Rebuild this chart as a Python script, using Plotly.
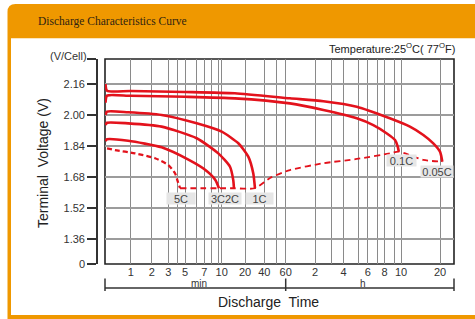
import numpy as np
import plotly.graph_objects as go

# ---------------- axis definitions ----------------
# Horizontal time scale of the chart (hand-drawn, non-uniform): time in minutes -> scale units
SCALE_TIME = [0, 1, 2, 3, 4, 5, 6, 7, 8, 9, 10, 20, 40, 50, 60, 120, 180, 240, 300, 360, 420, 480, 540, 600, 1200]
SCALE_UNIT = [0, 25.7, 46.7, 63.3, 72.3, 80, 91.7, 99.3, 106.7, 113.3, 116.7, 140, 159.3, 171, 180.7,
              210, 226.7, 238.5, 253.3, 262.8, 272.2, 279.5, 289.2, 296, 335]
X_MAX_UNIT = 349
X_LABELS = {1: "1", 2: "2", 3: "3", 5: "5", 7: "7", 10: "10", 20: "20", 40: "40", 60: "60",
            120: "2", 240: "4", 360: "6", 480: "8", 600: "10", 1200: "20"}

Y_TICK_VALS = [1.231, 1.36, 1.52, 1.68, 1.84, 2.00, 2.16, 2.289]
Y_TICK_TEXT = ["0", "1.36", "1.52", "1.68", "1.84", "2.00", "2.16", ""]
Y_RANGE = [1.231, 2.289]

# ---------------- data (time in minutes, voltage per cell) ----------------
C005_T = [0.02, 0.08, 1, 5, 14.8, 66.3, 147, 293, 512, 703, 892, 1065, 1200, 1250]
C005_V = [2.160, 2.125, 2.124, 2.119, 2.112, 2.086, 2.071, 2.043, 1.983, 1.940, 1.897, 1.854, 1.811, 1.759]

C01_T = [0.02, 0.08, 1, 5, 14.8, 66.3, 147, 293, 394, 492, 547, 571, 580]
C01_V = [2.063, 2.100, 2.099, 2.094, 2.086, 2.060, 2.026, 1.983, 1.948, 1.906, 1.871, 1.836, 1.811]

C1_T = [0.02, 0.08, 0.9, 2.55, 6, 10, 16.4, 22.5, 26.9, 28.6]
C1_V = [2.000, 2.017, 2.014, 2.000, 1.957, 1.914, 1.854, 1.785, 1.699, 1.622]

C2_T = [0.02, 0.08, 0.9, 2.55, 6, 9, 12.8, 14.1, 14.4]
C2_V = [1.948, 1.960, 1.957, 1.940, 1.880, 1.802, 1.733, 1.664, 1.622]

C3_T = [0.02, 0.08, 0.9, 2.55, 5.31, 7.14, 8.54, 9.19]
C3_V = [1.866, 1.875, 1.867, 1.833, 1.768, 1.716, 1.665, 1.622]

C5_T = [0.08, 0.39, 1.15, 2.17, 3.0, 3.72, 4.06, 4.33]
C5_V = [1.828, 1.819, 1.802, 1.777, 1.742, 1.699, 1.656, 1.622]

END_T = [4.33, 9.19, 14.4, 28.6, 44.6, 66.3, 147, 293, 512, 580, 892, 1250]
END_V = [1.622, 1.622, 1.622, 1.622, 1.675, 1.716, 1.751, 1.773, 1.802, 1.811, 1.768, 1.759]


def to_scale(t):
    t = np.asarray(t, float)
    st = np.array(SCALE_TIME[1:], float)
    su = np.array(SCALE_UNIT[1:], float)
    lt = np.log(np.maximum(t, 1e-9))
    out = np.interp(lt, np.log(st), su)
    slope = (su[-1] - su[-2]) / (np.log(st[-1]) - np.log(st[-2]))
    out = np.where(t > st[-1], su[-1] + slope * (lt - np.log(st[-1])), out)
    out = np.where(t < 1, t * SCALE_UNIT[1], out)
    return out


# ---------------- figure ----------------
W, H = 475, 319
ML, MR, MT, MB = 97, 21, 59, 55
PW, PH = W - ML - MR, H - MT - MB
X_DOM0 = (PW - X_MAX_UNIT) / PW


def px(x):
    return (x - ML) / PW


def py(y):
    return (H - MB - y) / PH


RED = "#E3121C"
FONT = "Liberation Sans, Arial, sans-serif"

fig = go.Figure()

solid = [(C005_T, C005_V), (C01_T, C01_V), (C1_T, C1_V), (C2_T, C2_V), (C3_T, C3_V)]
for t, v in solid:
    fig.add_trace(go.Scatter(x=to_scale(t), y=v, mode="lines",
                             line=dict(color=RED, width=2.6, shape="spline", smoothing=0.6),
                             hoverinfo="skip", showlegend=False))
fig.add_trace(go.Scatter(x=to_scale(C5_T), y=C5_V, mode="lines",
                         line=dict(color=RED, width=2.3, dash="5px,3px", shape="spline", smoothing=0.6),
                         hoverinfo="skip", showlegend=False))
fig.add_trace(go.Scatter(x=to_scale(END_T), y=END_V, mode="lines",
                         line=dict(color=RED, width=1.8, dash="6px,4px", shape="spline", smoothing=0.6),
                         hoverinfo="skip", showlegend=False))

outer = (f"M {px(7.5)},{py(12)} Q {px(7.5)},{py(4)} {px(15.5)},{py(4)} "
         f"L {px(490)},{py(4)} L {px(490)},{py(330)} L {px(7.5)},{py(330)} Z")
shapes = [
    dict(type="path", xref="paper", yref="paper", path=outer, fillcolor="#EF9800",
         line=dict(width=0), layer="below"),
    dict(type="rect", xref="paper", yref="paper", x0=px(11), x1=px(490), y0=py(38.3), y1=py(315),
         fillcolor="white", line=dict(width=0), layer="below"),
    dict(type="rect", xref="paper", yref="paper", x0=X_DOM0, x1=1, y0=0, y1=1,
         fillcolor="rgba(0,0,0,0)", line=dict(color="#222", width=1.6), layer="below"),
]


def sx(t):
    return X_DOM0 + float(to_scale([t])[0]) / PW


br_y = py(288)
shapes.append(dict(type="line", xref="paper", yref="paper", x0=X_DOM0, x1=1, y0=br_y, y1=br_y,
                   line=dict(color="#333", width=1.5)))
for xb in [X_DOM0, sx(60), 1.0]:
    shapes.append(dict(type="line", xref="paper", yref="paper", x0=xb, x1=xb, y0=py(278.5), y1=py(291),
                       line=dict(color="#333", width=1.5)))

grid_t = SCALE_TIME[1:]
annotations = [
    dict(text="Discharge Characteristics Curve", xref="paper", yref="paper", x=px(36), y=py(21),
         xanchor="left", yanchor="middle", showarrow=False,
         font=dict(family="Liberation Serif, Times New Roman, serif", size=11.5, color="#2f2412")),
    dict(text="Temperature:25<sup>O</sup>C( 77<sup>O</sup>F)", xref="paper", yref="paper",
         x=px(457), y=py(48), xanchor="right", yanchor="middle", showarrow=False,
         font=dict(family=FONT, size=11, color="#222")),
    dict(text="(V/Cell)", xref="paper", yref="paper", x=px(68), y=py(56), xanchor="center",
         yanchor="middle", showarrow=False, font=dict(family=FONT, size=11, color="#333")),
    dict(text="Terminal  Voltage (V)", xref="paper", yref="paper", x=px(43), y=py(163), textangle=-90,
         xanchor="center", yanchor="middle", showarrow=False, font=dict(family=FONT, size=14, color="#222")),
    dict(text="Discharge  Time", xref="paper", yref="paper", x=px(268), y=py(302), xanchor="center",
         yanchor="middle", showarrow=False, font=dict(family=FONT, size=14, color="#222")),
    dict(text="min", xref="paper", yref="paper", x=px(199), y=py(283), xanchor="center",
         yanchor="middle", showarrow=False, font=dict(family=FONT, size=10, color="#333")),
    dict(text="h", xref="paper", yref="paper", x=px(363), y=py(283), xanchor="center",
         yanchor="middle", showarrow=False, font=dict(family=FONT, size=10, color="#333")),
]

lab_font = dict(family=FONT, size=11, color="#444")


def curve_label(text, x, y, w, xs=0, ys=-10):
    return dict(text=text, x=x, y=y, xref="x", yref="y", showarrow=False, xshift=xs, yshift=ys,
                bgcolor="#E6E6E6", width=w, height=11, borderpad=0, font=lab_font,
                xanchor="center", yanchor="middle")


x5 = float(to_scale([C5_T[-1]])[0])
x3 = float(to_scale([C3_T[-1]])[0])
x2 = float(to_scale([C2_T[-1]])[0])
x1 = float(to_scale([C1_T[-1]])[0])
x01 = float(to_scale([C01_T[-1]])[0])
x005 = float(to_scale([C005_T[-1]])[0])
annotations += [
    curve_label("5C", x5, C5_V[-1], 28, xs=1),
    curve_label("3C2C", (x3 + x2) / 2, C3_V[-1], 32, xs=-1),
    curve_label("1C", x1, C1_V[-1], 27, xs=5),
    curve_label("0.1C", x01, C01_V[-1], 29, xs=3, ys=-8.5),
    curve_label("0.05C", x005, C005_V[-1], 32, xs=-5, ys=-10),
]

fig.update_layout(
    width=W, height=H, margin=dict(l=ML, r=MR, t=MT, b=MB, autoexpand=False),
    paper_bgcolor="white", plot_bgcolor="rgba(0,0,0,0)",
    shapes=shapes, annotations=annotations, showlegend=False,
    xaxis=dict(domain=[X_DOM0, 1], range=[0, X_MAX_UNIT], showline=False,
               tickvals=list(to_scale(grid_t)), ticktext=[X_LABELS.get(t, "") for t in grid_t],
               ticks="", showgrid=True, gridcolor="#8a8a8a", gridwidth=1.2, zeroline=False,
               tickfont=dict(family=FONT, size=11, color="#333"), fixedrange=True, automargin=False),
    yaxis=dict(range=Y_RANGE, anchor="free", position=0, showline=True, linecolor="#333", linewidth=1.6,
               tickvals=Y_TICK_VALS, ticktext=Y_TICK_TEXT, ticks="outside", ticklen=9, tickwidth=1.5,
               tickcolor="#333", showgrid=True, gridcolor="#9c9c9c", gridwidth=1.5, zeroline=False,
               tickfont=dict(family=FONT, size=11, color="#333"), fixedrange=True, automargin=False),
)

fig.write_html("out.html", config={"displayModeBar": False},
               post_script="document.body.style.margin='0px';")
